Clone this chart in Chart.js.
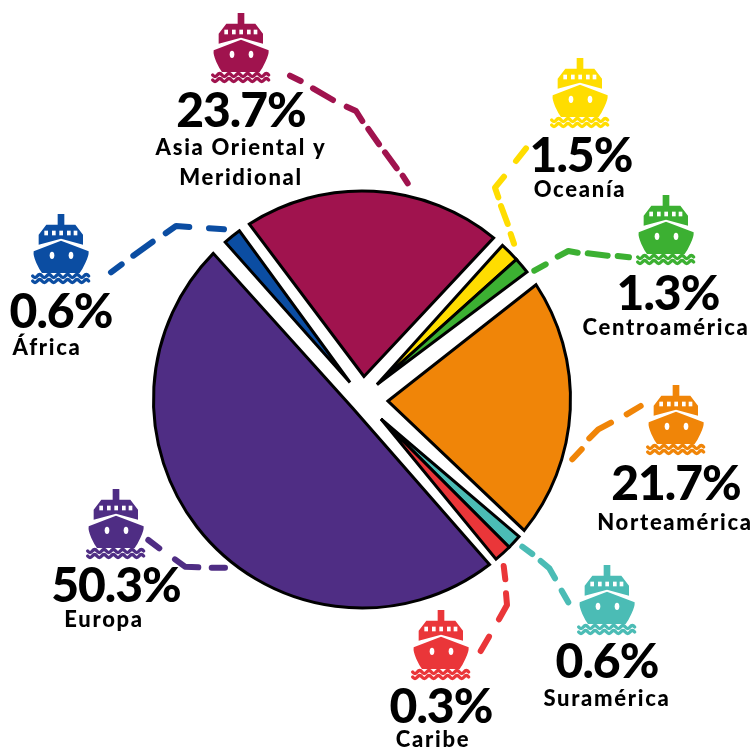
<!DOCTYPE html>
<html><head><meta charset="utf-8">
<style>html,body{margin:0;padding:0;background:#fff}#w{width:756px;height:750px}</style>
<script src="https://cdn.jsdelivr.net/npm/chart.js@4"></script></head>
<body><div id="w"><canvas id="c" width="756" height="750"></canvas></div>
<script>
const categories = ['Asia Oriental y Meridional','Oceanía','Centroamérica','Norteamérica','Suramérica','Caribe','Europa','África'];
const shares = [23.7,1.5,1.3,21.7,0.6,0.3,50.3,0.6];
const drawnDegrees = [74.75,7.05,6.65,75.65,5,5.9,176.1,8.9];
const colours = ['#A0134E','#FFDD00','#3CB032','#F08508','#4BBCB5','#EA3639','#4F2D84','#0B4DA2'];
const gapBefore = [1.3,1.6,0,2.15,1.0,0,1.3,1.9];
const gapAfter = [1.6,0,2.15,1.2,0,1,2.6,2.0];
const sliceTips = [[2,-23],[15,-15],[15,-15],[26,1.5],[19,19.5],[19,19.5],[-9,9],[-12,-17]];
const labelLines = [['Asia Oriental y','Meridional'],['Oceanía'],['Centroamérica'],['Norteamérica'],['Suramérica'],['Caribe'],['Europa'],['África']];
const labelSpots = [
 {ship:[241,13],pct:[241,127],name:[[241,155],[241,185]]},
 {ship:[580,58],pct:[581,172],name:[[580,197]]},
 {ship:[666,195],pct:[668,310],name:[[666,335]]},
 {ship:[676,385],pct:[676,500],name:[[675,530]]},
 {ship:[607,565],pct:[607,678],name:[[607,706]]},
 {ship:[441,610],pct:[441,723],name:[[433,747]]},
 {ship:[116,489],pct:[116,602],name:[[104,627]]},
 {ship:[61,214],pct:[61,328],name:[[47,355]]}
];
const leaderDashes = [
 [[[290,75.7],[300.7,81]],[[313,88.3],[333,100]],[[346.7,106.7],[356,111],[362.3,121]],[[368.3,129],[379,144.3]],[[385,152.3],[396.7,168.3]],[[402.7,175.7],[407.7,183.3]]],
 [[[526,148.3],[516,161]],[[504,176.7],[495,187.7],[498.3,197.3]],[[501,206],[507.7,224]],[[510.7,234],[514,243.7]]],
 [[[534.3,270.7],[545.7,264.3]],[[557.7,256.7],[568.3,251],[577.7,252.7]],[[587.7,253.3],[607.7,255.7]],[[617.7,256],[629,257.3]]],
 [[[572.3,459.3],[581.7,449.3]],[[589.3,438.3],[598.3,429.3],[611,422.7]],[[626.7,414.3],[640.7,406]]],
 [[[522.3,546.7],[532.3,554]],[[540.7,561],[549.3,568.3],[555,578.3]],[[561.7,590.7],[568.3,602.3]]],
 [[[503.7,566],[505.3,579.3]],[[506,593.3],[507,605],[499,619.3]],[[489,636.7],[480.7,651]]],
 [[[148.3,540],[159.3,548.3]],[[175,559.3],[185,566.7],[198.3,567.3]],[[211.7,567.7],[225,567.7]]],
 [[[111,272.3],[121.7,264.3]],[[133.3,255.7],[152.7,241.7]],[[165.7,233.3],[176,226],[189.3,227]],[[209,228.3],[224,229.3]]]
];
const hull = new Path2D('M-82 112 L0 80 L83 112 Q84 125 73 147 Q65 165 56 177 L-57 177 Q-66 165 -74 147 Q-84 125 -82 112 Z');
const deck = new Path2D('M-10 0 L10 0 L10 32 L43 32 L66 62 L66 92 L0 74 L-67 92 L-67 62 L-44 32 L-10 32 Z');
const wave = 'M-85 0 q7 9 14 0 t14 0 t14 0 t14 0 t14 0 t14 0 t14 0 t14 0 t14 0 t14 0 t14 0 t14 0';
function drawShip(ctx,x,y,colour){
  ctx.save();ctx.translate(x,y);ctx.scale(1/3,1/3);
  ctx.fillStyle=colour;ctx.fill(deck);ctx.fill(hull);
  ctx.fillStyle='#fff';
  [-50,-27,-5,18,38].forEach(w=>ctx.fillRect(w,50,11,14));
  [-27,30].forEach(e=>{ctx.beginPath();ctx.ellipse(e,124,7,11,0,0,Math.PI*2);ctx.fill();});
  ctx.strokeStyle=colour;ctx.lineWidth=10;ctx.lineCap='round';
  [186,201].forEach(o=>{ctx.save();ctx.translate(0,o);ctx.stroke(new Path2D(wave));ctx.restore();});
  ctx.restore();
}
const rad = d => d*Math.PI/180;
const artwork = {
  id:'artwork',
  beforeDatasetDraw(chart){
    const ctx=chart.ctx;
    ctx.save();
    chart.getDatasetMeta(0).data.forEach((a,i)=>{
      ctx.beginPath();
      ctx.moveTo(a.x+sliceTips[i][0],a.y+sliceTips[i][1]);
      ctx.arc(a.x,a.y,a.outerRadius,a.startAngle+rad(gapBefore[i]),a.endAngle-rad(gapAfter[i]));
      ctx.closePath();
      ctx.fillStyle=colours[i];ctx.fill();
      ctx.strokeStyle='#000';ctx.lineWidth=3;ctx.lineJoin='miter';ctx.stroke();
    });
    ctx.restore();
    return false;
  },
  afterDraw(chart){
    const ctx=chart.ctx;
    ctx.save();
    leaderDashes.forEach((dashes,i)=>{
      dashes.forEach(pts=>{
        ctx.beginPath();pts.forEach((p,k)=>k?ctx.lineTo(p[0],p[1]):ctx.moveTo(p[0],p[1]));
        ctx.strokeStyle=colours[i];ctx.lineWidth=6;ctx.lineCap='round';ctx.lineJoin='round';
        ctx.stroke();
      });
    });
    ctx.textAlign='center';ctx.textBaseline='alphabetic';
    labelSpots.forEach((s,i)=>{
      drawShip(ctx,s.ship[0],s.ship[1],colours[i]);
      ctx.fillStyle='#000';
      ctx.letterSpacing='-1px';
      ctx.font='900 48px Lato';
      ctx.fillText(shares[i].toFixed(1)+'%',s.pct[0],s.pct[1]);
      ctx.letterSpacing='1.7px';
      ctx.font='900 22px Lato';
      labelLines[i].forEach((t,k)=>ctx.fillText(t,s.name[k][0],s.name[k][1]));
    });
    ctx.restore();
  }
};
new Chart(document.getElementById('c'),{
  type:'pie',
  data:{labels:categories,datasets:[{data:drawnDegrees,backgroundColor:colours,borderColor:'#000',borderWidth:3,hoverOffset:0}]},
  options:{
    responsive:false,animation:false,radius:208.5,rotation:-34,
    layout:{padding:{right:32,top:49}},
    plugins:{legend:{display:false},tooltip:{enabled:false}},
    events:[]
  },
  plugins:[artwork]
});
</script></body></html>
